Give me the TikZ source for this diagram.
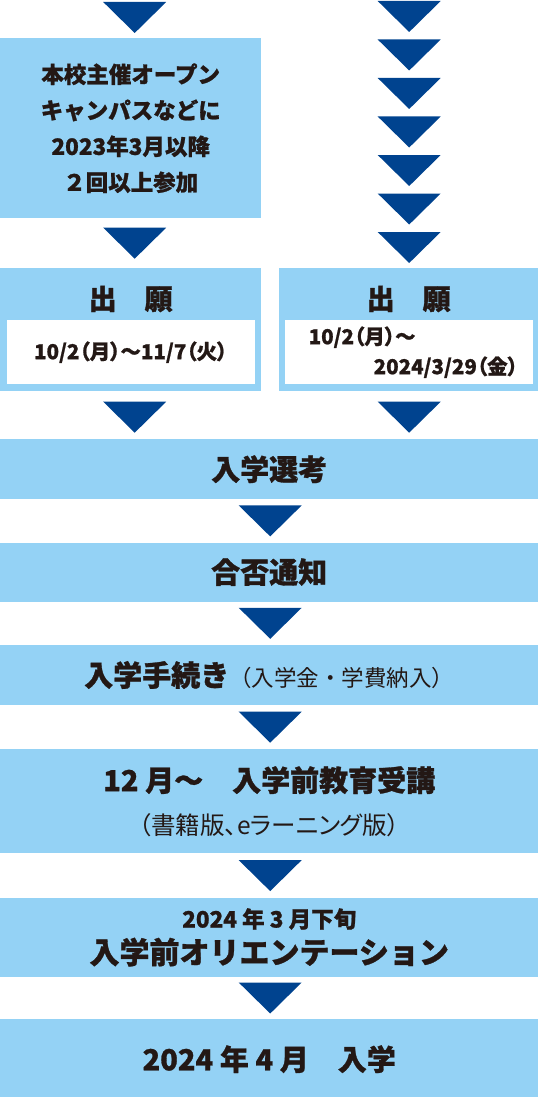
\documentclass[tikz,border=0pt]{standalone}
\usepackage{fontspec}
\setmainfont{Noto Sans CJK JP}[BoldFeatures={FakeBold=1}]
\newfontfamily\jpprop{Noto Sans CJK JP}[CharacterWidth=AlternateProportional, BoldFeatures={FakeBold=1}]
\usepackage{xcolor}
\usetikzlibrary{positioning,calc}

\definecolor{paleblue}{HTML}{94D2F5}
\definecolor{navy}{HTML}{00438F}
\definecolor{ink}{HTML}{231815}

\begin{document}
\begin{tikzpicture}[
    x=1pt, y=-1pt,
    box/.style={rectangle, fill=paleblue, anchor=north west, inner sep=0pt, align=center, text=ink},
    bar/.style={box, minimum width=538pt},
    datebox/.style={rectangle, fill=white, minimum width=248pt, minimum height=64pt, inner sep=0pt, text=ink,
        font=\jpprop\fontsize{20.5}{30}\selectfont\bfseries},
    heading/.style={inner sep=0pt, text=ink, font=\fontsize{28}{32}\selectfont\bfseries},
    big/.style={font=\fontsize{29}{34}\selectfont\bfseries},
    tri/.pic={\fill[navy] (-31.5,-15.5) -- (31.5,-15.5) -- (0,15.5) -- cycle;}
]
    \useasboundingbox (0,0) rectangle (538,1097);

    % Open campus condition (left column)
    \node[box, minimum width=261pt, minimum height=180pt, font=\fontsize{22.5}{36}\selectfont\bfseries] (open) at (0,38)
        {本校主催オープン\\キャンパスなどに\\2023年3月以降\\２回以上参加};

    % Application (left)
    \node[box, minimum width=261pt, minimum height=123pt] (appL) at (0,268) {};
    \node[heading] (headL) at ($(appL.north)+(0,31)$) {出　願};
    \node[datebox, above=7pt of appL.south] (dateL) {10/2（月）～11/7（火）};

    % Application (right)
    \node[box, minimum width=259pt, minimum height=123pt] (appR) at (279,268) {};
    \node[heading] (headR) at ($(appR.north)+(0,31)$) {出　願};
    \node[datebox, above=7pt of appR.south, text width=248pt, align=left] (dateR)
        {\hspace*{24pt}10/2（月）～\\\hspace*{89pt}2024/3/29（金）};

    % Common steps
    \node[bar, big, minimum height=60pt] (select) at (0,439) {入学選考};
    \node[bar, big, minimum height=59pt, below=43pt of select] (result) {合否通知};
    \node[bar, big, minimum height=60pt, below=43pt of result] (proc)
        {入学手続き{\fontsize{22.5}{26}\selectfont\mdseries （入学金・学費納入）}};
    \node[bar, font=\fontsize{29}{43}\selectfont\bfseries, minimum height=104pt, below=44pt of proc] (prep)
        {12 月～　入学前教育受講\\{\jpprop\fontsize{24.5}{43}\selectfont\mdseries （書籍版、eラーニング版）}};
    \node[bar, font=\fontsize{22.5}{36}\selectfont\bfseries, minimum height=79pt, below=44pt of prep] (orient)
        {2024 年 3 月下旬\\{\fontsize{30}{36}\selectfont 入学前オリエンテーション}};
    \node[bar, big, minimum height=80pt, below=42pt of orient] (enter) {2024 年 4 月　入学};

    % Triangles
    \pic at ($(open.north)+(4,-20.5)$) {tri};
    \pic at ($(open.south)!0.5!(appL.north)+(4,0)$) {tri};
    \pic at ($(appL.south)!0.5!(appL.south |- select.north)+(4,2)$) {tri};
    \foreach \k in {0,...,6}
        \pic at ($(appR.north)+(0.5,-20.5-38.5*\k)$) {tri};
    \pic at ($(appR.south)!0.5!(appR.south |- select.north)+(0.5,2)$) {tri};
    \foreach \a/\b in {select/result, result/proc, proc/prep, prep/orient, orient/enter}
        \pic at ($(\a.south)!0.5!(\b.north)+(1,0)$) {tri};

\end{tikzpicture}
\end{document}
